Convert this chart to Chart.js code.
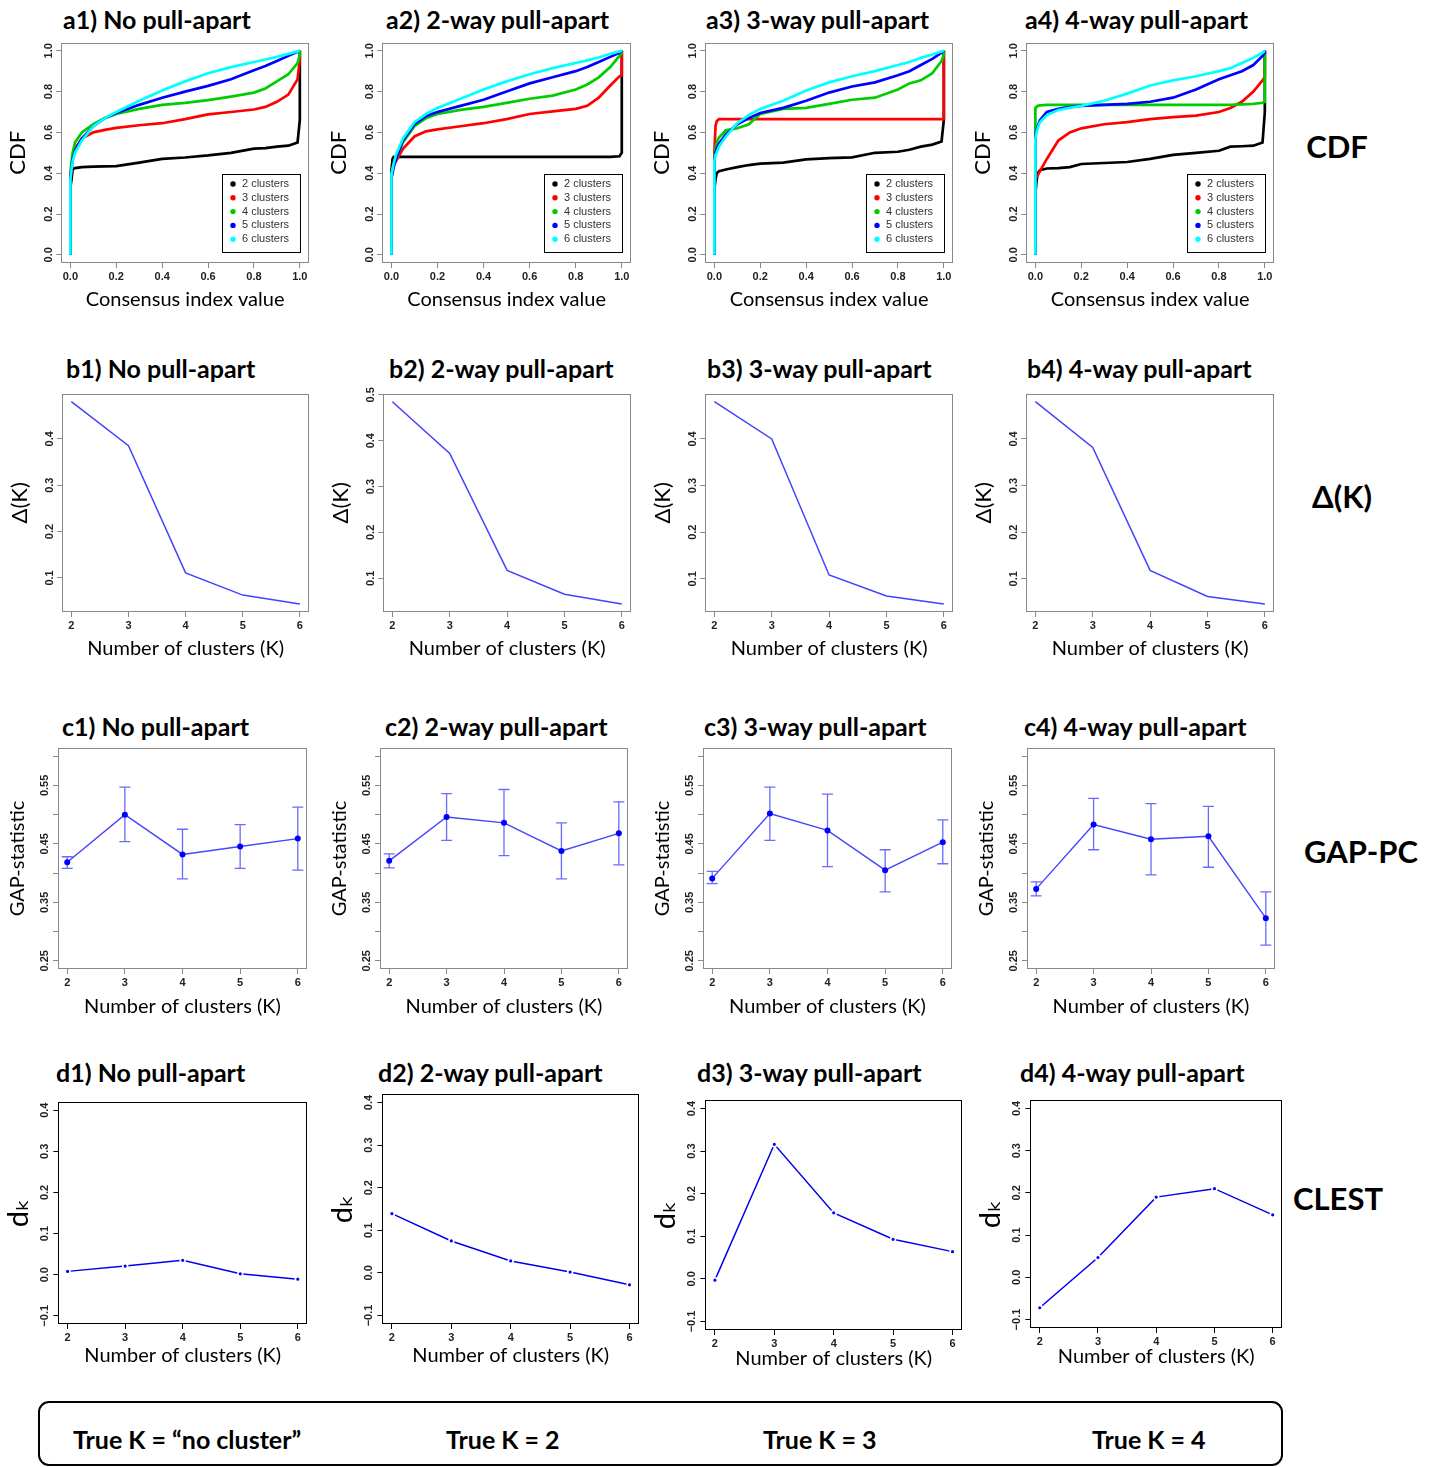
<!DOCTYPE html>
<html>
<head>
<meta charset="utf-8">
<script src="https://cdn.jsdelivr.net/npm/chart.js@4.4.1/dist/chart.umd.min.js"></script>
<style>
  body { margin: 0; background: #fff; width: 1435px; height: 1468px; position: relative; overflow: hidden; font-family: Lato, "Open Sans", sans-serif; }
  canvas { position: absolute; }
  .ttl { position: absolute; font-weight: bold; font-size: 25px; white-space: nowrap; color: #000; transform: translateY(-50%); }
  .side { position: absolute; font-weight: bold; font-size: 31px; white-space: nowrap; color: #000; transform: translate(-50%, -50%); }
  .truth { position: absolute; left: 38px; top: 1401px; width: 1241px; height: 61px; border: 2px solid #000; border-radius: 11px; }
  .tk { position: absolute; font-weight: bold; font-size: 25px; white-space: nowrap; transform: translateY(-50%); }
</style>
</head>
<body>

<script>
// ---- data ----
const clusterK = [2, 3, 4, 5, 6];
const cdfLabels = ['2 clusters', '3 clusters', '4 clusters', '5 clusters', '6 clusters'];
const cdfColors = ['#000000', '#ff0000', '#00cd00', '#0000ff', '#00ffff'];

// consensus index grid (0 and 1 repeated for the vertical jumps)
const cdfX = [0, 0, 0.005, 0.01, 0.02, 0.05, 0.1, 0.15, 0.2, 0.3, 0.4, 0.5, 0.6, 0.7, 0.8, 0.85, 0.9, 0.95, 0.99, 1, 1];

const cdfA1 = [
  [0, 0.33, 0.37, 0.42, 0.425, 0.43, 0.432, 0.433, 0.435, 0.452, 0.47, 0.477, 0.487, 0.5, 0.52, 0.523, 0.53, 0.535, 0.55, 0.66, 1],
  [0, 0.36, 0.42, 0.47, 0.52, 0.57, 0.6, 0.612, 0.622, 0.635, 0.645, 0.665, 0.688, 0.7, 0.712, 0.725, 0.75, 0.785, 0.86, 0.96, 1],
  [0, 0.4, 0.46, 0.5, 0.55, 0.6, 0.64, 0.67, 0.69, 0.715, 0.735, 0.745, 0.758, 0.775, 0.795, 0.815, 0.85, 0.885, 0.94, 0.98, 1],
  [0, 0.38, 0.43, 0.47, 0.51, 0.57, 0.63, 0.67, 0.695, 0.735, 0.77, 0.8, 0.828, 0.86, 0.905, 0.925, 0.95, 0.975, 0.995, 1, 1],
  [0, 0.37, 0.42, 0.46, 0.5, 0.56, 0.63, 0.67, 0.7, 0.755, 0.805, 0.85, 0.89, 0.92, 0.945, 0.957, 0.97, 0.985, 0.997, 1, 1]
];
const cdfA2 = [
  [0, 0.41, 0.47, 0.48, 0.48, 0.48, 0.48, 0.48, 0.48, 0.48, 0.48, 0.48, 0.48, 0.48, 0.48, 0.48, 0.48, 0.48, 0.483, 0.5, 1],
  [0, 0.38, 0.42, 0.44, 0.46, 0.52, 0.58, 0.605, 0.615, 0.63, 0.645, 0.665, 0.69, 0.703, 0.715, 0.73, 0.77, 0.83, 0.875, 0.88, 1],
  [0, 0.4, 0.42, 0.44, 0.47, 0.55, 0.63, 0.67, 0.69, 0.71, 0.725, 0.745, 0.765, 0.78, 0.81, 0.835, 0.87, 0.92, 0.975, 0.99, 1],
  [0, 0.38, 0.4, 0.43, 0.47, 0.56, 0.64, 0.68, 0.7, 0.73, 0.76, 0.8, 0.84, 0.87, 0.9, 0.92, 0.945, 0.97, 0.99, 1, 1],
  [0, 0.39, 0.42, 0.45, 0.49, 0.57, 0.65, 0.69, 0.72, 0.765, 0.81, 0.85, 0.885, 0.915, 0.94, 0.953, 0.967, 0.985, 0.997, 1, 1]
];
const cdfA3 = [
  [0, 0.32, 0.37, 0.4, 0.41, 0.418, 0.43, 0.44, 0.447, 0.452, 0.468, 0.474, 0.478, 0.5, 0.505, 0.515, 0.53, 0.54, 0.555, 0.66, 1],
  [0, 0.5, 0.63, 0.655, 0.665, 0.665, 0.665, 0.665, 0.665, 0.665, 0.665, 0.665, 0.665, 0.665, 0.665, 0.665, 0.665, 0.665, 0.665, 0.665, 1],
  [0, 0.48, 0.52, 0.55, 0.575, 0.61, 0.62, 0.64, 0.69, 0.715, 0.72, 0.74, 0.76, 0.77, 0.81, 0.84, 0.855, 0.89, 0.95, 0.98, 1],
  [0, 0.47, 0.5, 0.52, 0.545, 0.59, 0.64, 0.67, 0.695, 0.72, 0.755, 0.795, 0.825, 0.845, 0.88, 0.9, 0.93, 0.96, 0.99, 1, 1],
  [0, 0.46, 0.49, 0.5, 0.53, 0.58, 0.645, 0.685, 0.715, 0.755, 0.805, 0.845, 0.875, 0.9, 0.93, 0.945, 0.965, 0.982, 0.997, 1, 1]
];
const cdfA4 = [
  [0, 0.3, 0.36, 0.4, 0.415, 0.423, 0.425, 0.43, 0.445, 0.45, 0.455, 0.47, 0.49, 0.5, 0.51, 0.53, 0.532, 0.535, 0.55, 0.7, 1],
  [0, 0.37, 0.38, 0.39, 0.41, 0.47, 0.56, 0.6, 0.62, 0.64, 0.65, 0.665, 0.675, 0.682, 0.7, 0.72, 0.75, 0.8, 0.855, 0.87, 1],
  [0, 0.72, 0.725, 0.73, 0.732, 0.735, 0.735, 0.735, 0.735, 0.735, 0.735, 0.735, 0.735, 0.735, 0.735, 0.735, 0.737, 0.74, 0.745, 0.75, 1],
  [0, 0.58, 0.61, 0.63, 0.66, 0.7, 0.715, 0.725, 0.73, 0.735, 0.74, 0.75, 0.77, 0.81, 0.86, 0.88, 0.9, 0.93, 0.975, 0.99, 1],
  [0, 0.57, 0.6, 0.62, 0.65, 0.685, 0.71, 0.72, 0.73, 0.755, 0.79, 0.83, 0.855, 0.875, 0.9, 0.915, 0.94, 0.965, 0.99, 1, 1]
];

const deltaB1 = [0.48, 0.385, 0.111, 0.063, 0.044];
const deltaB2 = [0.485, 0.372, 0.117, 0.065, 0.044];
const deltaB3 = [0.48, 0.4, 0.108, 0.063, 0.046];
const deltaB4 = [0.48, 0.382, 0.118, 0.062, 0.046];

const gapC1 = [0.4185, 0.5, 0.432, 0.4455, 0.459];
const gapC1Lo = [0.408, 0.454, 0.39, 0.408, 0.405];
const gapC1Hi = [0.428, 0.547, 0.475, 0.483, 0.513];
const gapC2 = [0.421, 0.496, 0.486, 0.438, 0.468];
const gapC2Lo = [0.409, 0.456, 0.43, 0.39, 0.414];
const gapC2Hi = [0.433, 0.536, 0.543, 0.486, 0.522];
const gapC3 = [0.391, 0.502, 0.473, 0.405, 0.453];
const gapC3Lo = [0.382, 0.456, 0.411, 0.368, 0.416];
const gapC3Hi = [0.403, 0.547, 0.535, 0.44, 0.491];
const gapC4 = [0.373, 0.483, 0.458, 0.463, 0.323];
const gapC4Lo = [0.361, 0.44, 0.397, 0.41, 0.277];
const gapC4Hi = [0.385, 0.528, 0.519, 0.514, 0.368];

const clestD1 = [0.008, 0.021, 0.035, 0.002, -0.011];
const clestD2 = [0.139, 0.075, 0.028, 0.002, -0.028];
const clestD3 = [-0.003, 0.316, 0.155, 0.093, 0.064];
const clestD4 = [-0.072, 0.047, 0.19, 0.21, 0.148];

// ticks
const cdfTicks = [0, 0.2, 0.4, 0.6, 0.8, 1];
const kTicks = [2, 3, 4, 5, 6];
const deltaTicks = [0.1, 0.2, 0.3, 0.4, 0.5];
const gapTicks = [0.25, 0.3, 0.35, 0.4, 0.45, 0.5, 0.55, 0.6];
const gapTickLabels = ['0.25', '', '0.35', '', '0.45', '', '0.55', ''];
const clestTicks = [-0.1, 0, 0.1, 0.2, 0.3, 0.4];

// ---- helpers ----
Chart.defaults.font.family = '"Liberation Sans", Arial, sans-serif';
Chart.defaults.animation = false;

// R style axis range: data range widened by 4% each side
function rRange(lo, hi) { const d = (hi - lo) * 0.04; return [lo - d, hi + d]; }
const fmt1 = v => (v < 0 ? '\u2212' : '') + Math.abs(v).toFixed(1);

const framePlugin = {
  id: 'frame',
  afterDraw(chart, args, opts) {
    const a = chart.chartArea, c = chart.ctx;
    c.save();
    c.strokeStyle = opts.color;
    c.lineWidth = 1;
    c.strokeRect(Math.round(a.left) + 0.5, Math.round(a.top) + 0.5,
      Math.round(a.right - a.left) - 1, Math.round(a.bottom - a.top) - 1);
    c.restore();
  }
};

const errorBarPlugin = {
  id: 'errorBars',
  beforeDatasetsDraw(chart) {
    const ds = chart.data.datasets[0];
    if (!ds.errLo) return;
    const xs = chart.scales.x, ys = chart.scales.y, c = chart.ctx;
    c.save();
    c.strokeStyle = '#6a6aff';
    c.lineWidth = 1.3;
    ds.data.forEach((p, i) => {
      const px = xs.getPixelForValue(p.x);
      const y1 = ys.getPixelForValue(ds.errLo[i]), y2 = ys.getPixelForValue(ds.errHi[i]);
      c.beginPath();
      c.moveTo(px, y1); c.lineTo(px, y2);
      c.moveTo(px - 5.5, y1); c.lineTo(px + 5.5, y1);
      c.moveTo(px - 5.5, y2); c.lineTo(px + 5.5, y2);
      c.stroke();
    });
    c.restore();
  }
};

const cdfLegendPlugin = {
  id: 'cdfLegend',
  afterDraw(chart, args, opts) {
    if (!opts.show) return;
    const a = chart.chartArea, c = chart.ctx;
    const w = 78, h = 78;
    const x = Math.round(a.right - 9 - w), y = Math.round(a.bottom - 11 - h);
    c.save();
    c.fillStyle = '#fff';
    c.fillRect(x, y, w, h);
    c.strokeStyle = '#000';
    c.lineWidth = 1;
    c.strokeRect(x + 0.5, y + 0.5, w, h);
    c.font = '11px "Liberation Sans", Arial, sans-serif';
    c.textBaseline = 'middle';
    chart.data.datasets.forEach((ds, i) => {
      const ty = y + 10 + i * 13.8;
      c.fillStyle = ds.borderColor;
      c.beginPath(); c.arc(x + 11, ty, 2.7, 0, 2 * Math.PI); c.fill();
      c.fillStyle = '#333';
      c.fillText(ds.label, x + 20, ty);
    });
    c.restore();
  }
};

function axis(pos, range, ticks, labelFn, title, titleSize, lineColor, size, labelPad) {
  const left = pos === 'left';
  return {
    type: 'linear', position: pos, min: range[0], max: range[1],
    afterBuildTicks: s => { s.ticks = ticks.filter(v => v >= range[0] && v <= range[1]).map(v => ({ value: v })); },
    afterFit: s => { if (left) s.width = size; else s.height = size; },
    grid: { drawOnChartArea: false, drawTicks: true, tickLength: 5, color: lineColor, lineWidth: 1 },
    border: { display: false },
    ticks: {
      autoSkip: false, font: { size: 11, weight: 'bold' }, color: '#222', padding: labelPad,
      minRotation: left ? 90 : 0, maxRotation: left ? 90 : 0, crossAlign: left ? 'center' : 'near',
      callback: labelFn
    },
    title: { display: true, text: title, color: '#000', padding: 0, font: { family: 'Lato, "DejaVu Sans", sans-serif', size: titleSize } }
  };
}

function makeChart(box, datasets, xAx, yAx, plugins) {
  const padT = 6, padR = 6;
  const yW = box.yGap + yAx.titleSize * 0.6;
  const xH = box.xGap + 12;
  const w = Math.round(yW + (box.R - box.L) + padR), h = Math.round(padT + (box.B - box.T) + xH);
  const cv = document.createElement('canvas');
  cv.width = w; cv.height = h;
  cv.style.left = (box.L - yW) + 'px';
  cv.style.top = (box.T - padT) + 'px';
  document.body.appendChild(cv);
  new Chart(cv, {
    type: 'line',
    data: { datasets },
    options: {
      responsive: false, devicePixelRatio: 1,
      layout: { padding: { top: padT, right: padR, left: 0, bottom: 0 } },
      scales: {
        x: axis('bottom', xAx.range, xAx.ticks, xAx.fmt, xAx.title, 20, box.line, xH, 2),
        y: axis('left', yAx.range, yAx.ticks, yAx.fmt, yAx.title, yAx.titleSize, box.line, yW, yAx.pad)
      },
      plugins: Object.assign({ legend: { display: false }, tooltip: { enabled: false }, frame: { color: box.line } }, plugins || {})
    },
    plugins: [framePlugin, errorBarPlugin, cdfLegendPlugin]
  });
}

function addTitle(text, x, y) {
  const d = document.createElement('div');
  d.className = 'ttl'; d.textContent = text;
  d.style.left = x + 'px'; d.style.top = y + 'px';
  document.body.appendChild(d);
}

const pts = (xs, ys) => xs.map((x, i) => ({ x, y: ys[i] }));
const kRange = rRange(2, 6);
const kAxis = { range: kRange, ticks: kTicks, fmt: v => String(v), title: 'Number of clusters (K)' };

// ---- row a: CDF ----
const cdfPanels = [
  { t: 'a1) No pull-apart', tx: 63, s: cdfA1, box: { L: 61, R: 309, T: 42, B: 263 } },
  { t: 'a2) 2-way pull-apart', tx: 386, s: cdfA2, box: { L: 382, R: 631, T: 42, B: 263 } },
  { t: 'a3) 3-way pull-apart', tx: 706, s: cdfA3, box: { L: 705, R: 953, T: 42, B: 263 } },
  { t: 'a4) 4-way pull-apart', tx: 1025, s: cdfA4, box: { L: 1026, R: 1274, T: 42, B: 263 } }
];
cdfPanels.forEach(p => {
  addTitle(p.t, p.tx, 19);
  const ds = p.s.map((ys, i) => ({
    label: cdfLabels[i], data: pts(cdfX, ys), borderColor: cdfColors[i], borderWidth: 2.7,
    pointRadius: 0, tension: 0, order: 4 - i
  }));
  makeChart(Object.assign({ yGap: 43, xGap: 37, line: '#888' }, p.box), ds,
    { range: rRange(0, 1), ticks: cdfTicks, fmt: v => v.toFixed(1), title: 'Consensus index value' },
    { range: rRange(0, 1), ticks: cdfTicks, fmt: v => v.toFixed(1), title: 'CDF', titleSize: 22, pad: 0 },
    { cdfLegend: { show: true } });
});

// ---- row b: delta(K) ----
const deltaPanels = [
  { t: 'b1) No pull-apart', tx: 66, d: deltaB1, box: { L: 62, R: 309 } },
  { t: 'b2) 2-way pull-apart', tx: 389, d: deltaB2, box: { L: 383, R: 631 } },
  { t: 'b3) 3-way pull-apart', tx: 707, d: deltaB3, box: { L: 705, R: 953 } },
  { t: 'b4) 4-way pull-apart', tx: 1027, d: deltaB4, box: { L: 1026, R: 1274 } }
];
deltaPanels.forEach(p => {
  addTitle(p.t, p.tx, 368);
  const ds = [{ data: pts(clusterK, p.d), borderColor: '#4343ff', borderWidth: 1.5, pointRadius: 0, tension: 0 }];
  makeChart(Object.assign({ T: 393, B: 612, yGap: 42, xGap: 37, line: '#888' }, p.box), ds, kAxis,
    { range: rRange(Math.min(...p.d), Math.max(...p.d)), ticks: deltaTicks, fmt: v => v.toFixed(1), title: '\u0394(K)', titleSize: 22, pad: 0 });
});

// ---- row c: GAP statistic ----
const gapPanels = [
  { t: 'c1) No pull-apart', tx: 62, m: gapC1, lo: gapC1Lo, hi: gapC1Hi, box: { L: 58, R: 307 } },
  { t: 'c2) 2-way pull-apart', tx: 385, m: gapC2, lo: gapC2Lo, hi: gapC2Hi, box: { L: 380, R: 628 } },
  { t: 'c3) 3-way pull-apart', tx: 704, m: gapC3, lo: gapC3Lo, hi: gapC3Hi, box: { L: 703, R: 952 } },
  { t: 'c4) 4-way pull-apart', tx: 1024, m: gapC4, lo: gapC4Lo, hi: gapC4Hi, box: { L: 1027, R: 1275 } }
];
gapPanels.forEach(p => {
  addTitle(p.t, p.tx, 726);
  const ds = [{
    data: pts(clusterK, p.m), errLo: p.lo, errHi: p.hi,
    borderColor: '#4444ff', borderWidth: 1.4, pointRadius: 3, pointBackgroundColor: '#0000ff', pointBorderWidth: 0, tension: 0
  }];
  makeChart(Object.assign({ T: 748, B: 969, yGap: 40, xGap: 38, line: '#888' }, p.box), ds, kAxis,
    { range: rRange(0.25, 0.6), ticks: gapTicks,
      fmt: v => gapTickLabels[gapTicks.findIndex(t => Math.abs(t - v) < 1e-9)], title: 'GAP-statistic', titleSize: 20, pad: -3 });
});

// ---- row d: CLEST ----
const clestPanels = [
  { t: 'd1) No pull-apart', tx: 56, d: clestD1, box: { L: 58, R: 307, T: 1102, B: 1324, xGap: 32 } },
  { t: 'd2) 2-way pull-apart', tx: 378, d: clestD2, box: { L: 382, R: 639, T: 1094, B: 1324, xGap: 32 } },
  { t: 'd3) 3-way pull-apart', tx: 697, d: clestD3, box: { L: 705, R: 962, T: 1100, B: 1330, xGap: 29 } },
  { t: 'd4) 4-way pull-apart', tx: 1020, d: clestD4, box: { L: 1030, R: 1282, T: 1100, B: 1328, xGap: 29 } }
];
clestPanels.forEach(p => {
  addTitle(p.t, p.tx, 1072);
  const ds = [{
    data: pts(clusterK, p.d), borderColor: '#0000ee', borderWidth: 1.5, pointRadius: 2.4,
    pointBackgroundColor: '#0000ff', pointBorderColor: '#ffffff', pointBorderWidth: 1.6, tension: 0
  }];
  makeChart(Object.assign({ yGap: 40, line: '#000' }, p.box), ds, kAxis,
    { range: rRange(-0.1, 0.4), ticks: clestTicks, fmt: fmt1, title: 'd\u2096', titleSize: 29, pad: -2 });
});
</script>

<div class="side" style="left:1337px;top:146px">CDF</div>
<div class="side" style="left:1342px;top:496px">&Delta;(K)</div>
<div class="side" style="left:1361px;top:851px">GAP-PC</div>
<div class="side" style="left:1338px;top:1198px">CLEST</div>

<div class="truth"></div>
<div class="tk" style="left:73px;top:1439px">True K = &ldquo;no cluster&rdquo;</div>
<div class="tk" style="left:446px;top:1439px">True K = 2</div>
<div class="tk" style="left:763px;top:1439px">True K = 3</div>
<div class="tk" style="left:1092px;top:1439px">True K = 4</div>
</body>
</html>
